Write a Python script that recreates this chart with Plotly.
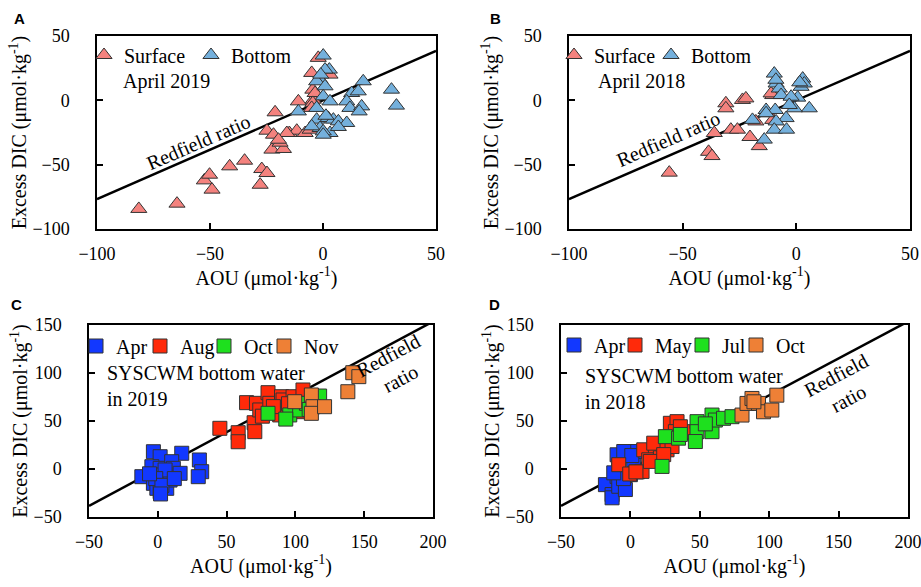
import plotly.graph_objects as go

W, H = 921, 587

# ---------------- data ----------------
# Panel A: April 2019 (AOU, excess DIC)
A_surface_aou = [-81.5, -64.6, -52.5, -50.2, -49.1, -41.3, -34.7, -27.1, -24.8, -27.8, -21.2, -24.8, -21.9,
                 -22.6, -17.5, -19.0, -14.9, -11.6, -7.9, -10.9, -5.7, -5.0, -4.5, -4.3, -2.1, -3.5, 3.1,
                 -4.5, -5.0, -16.0, -19.7]
A_surface_dic = [-84.4, -80.3, -62.2, -57.8, -69.4, -51.3, -46.9, -53.4, -56.5, -65.6, -9.3, -23.6, -26.7,
                 -38.3, -37.8, -32.9, -25.4, -23.6, -25.4, -0.8, -22.8, 21.3, 8.3, 0.5, 33.0, 5.7, 20.0,
                 -2.0, -5.9, -25.4, -30.6]
A_bottom_aou = [0.1, 2.8, 0.9, -1.3, -2.8, 0.9, 0.1, 3.1, 17.8, 12.7, 15.6, 10.5, 11.9, 17.1, 16.0, -10.9,
                -2.8, -2.8, 2.3, 4.6, 6.8, 10.5, -1.3, 3.1, 6.8, 0.1, -5.0, 30.3, 32.5, 0.1, 1.3, -1.0]
A_bottom_dic = [34.8, 23.9, 23.9, 16.1, 14.8, 10.9, 3.1, -0.8, 14.8, 5.7, 7.0, -0.8, -5.9, -4.7, -8.6, -8.6,
                -5.9, -15.0, -13.7, -15.0, -16.3, -17.6, -21.5, -25.4, -20.7, -24.1, -20.2, 8.3, -4.1,
                -26.7, -12.0, 20.0]

# Panel B: April 2018
B_surface_aou = [-55.9, -38.6, -37.1, -36.1, -31.0, -31.0, -28.8, -25.9, -23.7, -22.2, -20.4, -16.3, -17.8,
                 -12.6, -10.4, -10.4, -11.1]
B_surface_dic = [-56.2, -40.0, -43.3, -25.4, -2.3, -6.2, -22.8, -22.8, 0.3, 1.5, -28.5, -35.6, -16.4,
                 -10.0, -15.2, 4.1, 5.4]
B_bottom_aou = [-9.7, -8.9, -7.5, -6.7, 2.8, 2.1, 3.5, 0.6, -2.3, 5.7, -0.9, -3.1, -13.3, -9.3, -4.5, -8.9,
                -19.3, -9.7, -4.3, -14.1, -13.3, -9.0, 1.5]
B_bottom_dic = [20.8, 13.1, 9.2, 4.1, 16.9, 10.5, 13.1, 2.1, 2.8, -6.2, -6.2, -3.6, -7.5, -7.5, -13.8, -16.4,
                -15.2, -22.8, -22.8, -30.5, -10.0, 16.0, 14.0]

# Panel C: SYSCWM bottom water in 2019
C_months = ["Apr", "Aug", "Oct", "Nov"]
C_aou = [
    [-3.2, 1.7, 17.4, 30.2, 31.9, 29.4, -11.6, -4.3, 1.7, 10.1, 11.3, 16.2, 4.1, -3.2, -0.7, 6.5, 1.7, 8.9,
     5.3, -1.5, 3.0, 12.0, -6.0, 2.0],
    [45.1, 58.4, 58.4, 70.0, 70.5, 64.5, 71.7, 74.1, 80.1, 81.4, 86.2, 89.9, 91.0, 88.6, 98.3, 105.5, 103.1,
     76.0, 84.0, 95.0],
    [80.1, 95.9, 103.1, 108.0, 117.6, 93.0, 110.0],
    [99.5, 111.6, 112.8, 111.6, 121.2, 138.1, 141.7, 146.1],
]
C_dic = [
    [18.0, 12.8, 16.4, 9.4, -2.8, -8.0, -8.0, 2.4, 0.7, 7.6, 0.7, -4.5, -6.2, -14.9, -20.1, -20.1, -23.6,
     -11.5, -1.0, -10.0, -17.0, -10.0, -5.0, -26.0],
    [42.4, 37.8, 28.4, 48.2, 38.9, 69.1, 68.4, 61.5, 79.5, 68.4, 61.5, 75.3, 71.9, 56.3, 75.3, 82.3, 59.7,
     55.0, 65.0, 68.0],
    [58.0, 56.3, 61.5, 68.4, 76.0, 52.0, 62.0],
    [70.1, 77.1, 64.9, 58.0, 64.9, 80.5, 100.3, 96.2],
]

# Panel D: SYSCWM bottom water in 2018
D_months = ["Apr", "May", "Jul", "Oct"]
D_aou = [
    [-18.0, -13.2, -13.2, -9.6, -8.4, -9.6, -8.4, -3.6, 2.4, 0.0, 3.6, -4.8, -5.0, 5.0, 1.0, -12.0],
    [-8.4, -0.5, 8.4, 9.6, 18.0, 16.8, 26.4, 30.0, 28.8, 33.6, 32.4, 40.8, 13.2, 21.6, 14.4, 4.0, 24.0, 36.0],
    [22.8, 25.2, 34.7, 48.0, 48.0, 46.8, 58.8, 58.8, 61.2, 67.1, 73.2, 36.0, 54.0],
    [80.4, 84.0, 87.6, 92.3, 95.9, 101.9, 105.5, 89.0],
]
D_dic = [
    [-16.3, -26.6, -30.0, 14.8, 2.7, -7.7, -18.0, -21.4, 9.6, -5.9, 18.2, 18.2, -10.0, -3.0, 14.0, -4.0],
    [4.5, -5.2, -2.5, 20.0, 20.0, 26.9, 20.0, 23.4, 47.6, 49.3, 38.9, 38.9, 9.6, 11.7, 7.9, -3.0, 15.0, 44.0],
    [2.7, 33.7, 32.1, 49.3, 38.9, 28.6, 56.2, 38.9, 51.0, 52.8, 54.5, 36.0, 47.0],
    [56.2, 68.3, 73.5, 68.3, 59.6, 61.4, 76.9, 70.0],
]

REDFIELD_SLOPE = 106 / 138
AB_range = [-100, 50]
CD_xrange = [-50, 200]
CD_yrange = [-50, 150]

# ---------------- style ----------------
SERIF = "Liberation Serif"
SURF_COLOR = "#F4827E"
BOT_COLOR = "#74B0DC"
C_colors = ["#1238FF", "#FF2A0A", "#1EE01E", "#EE8036"]
D_colors = ["#1238FF", "#FF2A0A", "#1EE01E", "#EE8036"]
EDGE = "#333333"

def px_x(p):
    return p / W

def px_y(p):
    return 1 - p / H

fig = go.Figure()
legends = {}
leg_count = [0]

def new_legend(sym_x, sym_y):
    leg_count[0] += 1
    key = "legend" if leg_count[0] == 1 else "legend%d" % leg_count[0]
    legends[key] = dict(x=px_x(sym_x - 20), y=px_y(sym_y), xanchor="left", yanchor="middle",
                        orientation="h", bgcolor="rgba(0,0,0,0)", borderwidth=0, itemwidth=30,
                        font=dict(family=SERIF, size=20, color="black"),
                        itemclick=False, itemdoubleclick=False)
    return key

def redfield(xa, ya, xr):
    fig.add_trace(go.Scatter(x=xr, y=[REDFIELD_SLOPE * v for v in xr], mode="lines",
                             line=dict(color="black", width=2.5), xaxis=xa, yaxis=ya,
                             showlegend=False, hoverinfo="skip"))

def pts(xs, ys, name, sym, size, color, xa, ya, leg_xy):
    fig.add_trace(go.Scatter(x=xs, y=ys, mode="markers", name=name,
                             marker=dict(symbol=sym, size=size, color=color, line=dict(color=EDGE, width=1)),
                             xaxis=xa, yaxis=ya, legend=new_legend(*leg_xy)))

# Panel A
redfield("x", "y", AB_range)
pts(A_surface_aou, A_surface_dic, "Surface", "triangle-up", 14, SURF_COLOR, "x", "y", (104, 55))
pts(A_bottom_aou, A_bottom_dic, "Bottom", "triangle-up", 14, BOT_COLOR, "x", "y", (211, 55))
# Panel B
redfield("x2", "y2", AB_range)
pts(B_surface_aou, B_surface_dic, "Surface", "triangle-up", 14, SURF_COLOR, "x2", "y2", (574, 55))
pts(B_bottom_aou, B_bottom_dic, "Bottom", "triangle-up", 14, BOT_COLOR, "x2", "y2", (671, 55))
# Panel C
redfield("x3", "y3", CD_xrange)
for m, xs, ys, c, sx in zip(C_months, C_aou, C_dic, C_colors, [96, 160, 224, 284]):
    pts(xs, ys, m, "square", 14, c, "x3", "y3", (sx, 346))
# Panel D
redfield("x4", "y4", CD_xrange)
for m, xs, ys, c, sx in zip(D_months, D_aou, D_dic, D_colors, [574, 635, 702, 756]):
    pts(xs, ys, m, "square", 14, c, "x4", "y4", (sx, 345))

# ---------------- axes ----------------
TITLE = "(μmol·kg<sup>-1</sup>)"

def ax(domain, rng, title, anchor, is_y):
    d = dict(domain=domain, range=rng, dtick=50, tick0=0, showgrid=False, zeroline=False,
             showline=True, linecolor="black", linewidth=1.5, mirror=True,
             ticks="inside", ticklen=6, tickwidth=1.5, tickcolor="black",
             tickfont=dict(family=SERIF, size=18, color="black"),
             title=dict(text=title, font=dict(family=SERIF, size=20, color="black")),
             anchor=anchor, fixedrange=True, automargin=False, ticklabeloverflow="allow")
    if is_y:
        d["ticklabelstandoff"] = 22
        d["title"]["standoff"] = 0
    else:
        d["ticklabelstandoff"] = 8
        d["title"]["standoff"] = 3
    return d

xA = [px_x(97), px_x(436)]
xB = [px_x(569), px_x(910)]
xC = [px_x(89), px_x(433)]
xD = [px_x(561), px_x(908)]
yAB = [px_y(229), px_y(36)]
yCD = [px_y(517), px_y(325)]

fig.update_layout(
    template="none",
    xaxis=ax(xA, AB_range, "AOU " + TITLE, "y", False),
    yaxis=ax(yAB, AB_range, "Excess DIC " + TITLE, "x", True),
    xaxis2=ax(xB, AB_range, "AOU " + TITLE, "y2", False),
    yaxis2=ax(yAB, AB_range, "Excess DIC " + TITLE, "x2", True),
    xaxis3=ax(xC, CD_xrange, "AOU " + TITLE, "y3", False),
    yaxis3=ax(yCD, CD_yrange, "Excess DIC " + TITLE, "x3", True),
    xaxis4=ax(xD, CD_xrange, "AOU " + TITLE, "y4", False),
    yaxis4=ax(yCD, CD_yrange, "Excess DIC " + TITLE, "x4", True),
)
fig.update_layout(**legends)

# ---------------- annotations ----------------
ann = []
def text(x, y, s, xref, yref, angle=0, xanchor="left", size=20, align="left"):
    ann.append(dict(x=x, y=y, text=s, xref=xref, yref=yref, showarrow=False, textangle=angle,
                    xanchor=xanchor, yanchor="middle", align=align,
                    font=dict(family=SERIF, size=size, color="black")))

text(-89.6, 14.5, "April 2019", "x", "y")
text(-88.1, 14.6, "April 2018", "x2", "y2")
text(-38.2, 86, "SYSCWM bottom water<br>in 2019", "x3", "y3")
text(-34.5, 83, "SYSCWM bottom water<br>in 2018", "x4", "y4")
text(-55, -32, "Redfield ratio", "x", "y", angle=-23.5, xanchor="center")
text(-56.4, -30, "Redfield ratio", "x2", "y2", angle=-23.5, xanchor="center")
text(172, 106, "Redfield<br>ratio", "x3", "y3", angle=-28, xanchor="center", align="center")
text(152.5, 85, "Redfield<br>ratio", "x4", "y4", angle=-28, xanchor="center", align="center")

for lab, xp, yp in [("A", 19, 18), ("B", 495, 18), ("C", 16, 304), ("D", 494, 304)]:
    ann.append(dict(x=px_x(xp), y=px_y(yp), text="<b>%s</b>" % lab, xref="paper", yref="paper",
                    showarrow=False, xanchor="center", yanchor="middle",
                    font=dict(family="Liberation Sans", size=15, color="black")))

fig.update_layout(annotations=ann, width=W, height=H, margin=dict(l=0, r=0, t=0, b=0),
                  paper_bgcolor="white", plot_bgcolor="white", showlegend=True)

fig.write_html("out.html")
